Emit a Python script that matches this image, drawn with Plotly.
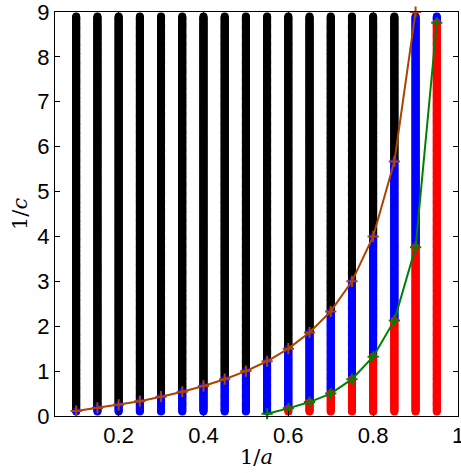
import numpy as np
import plotly.graph_objects as go

# columns of 1/a
col_x = [0.10, 0.15, 0.20, 0.25, 0.30, 0.35, 0.40, 0.45, 0.50, 0.55,
         0.60, 0.65, 0.70, 0.75, 0.80, 0.85, 0.90, 0.95]
# upper boundary (brown curve)
brown_x = [0.10, 0.15, 0.20, 0.25, 0.30, 0.35, 0.40, 0.45, 0.50, 0.55,
           0.60, 0.65, 0.70, 0.75, 0.80, 0.85, 0.90]
brown_y = [0.11, 0.18, 0.25, 0.33, 0.43, 0.54, 0.67, 0.82, 1.00, 1.22,
           1.50, 1.86, 2.33, 3.00, 4.00, 5.67, 9.00]
# lower boundary (green curve)
green_x = [0.55, 0.60, 0.65, 0.70, 0.75, 0.80, 0.85, 0.90, 0.95]
green_y = [0.05, 0.17, 0.31, 0.50, 0.82, 1.32, 2.13, 3.76, 8.76]

x_ticks = [0.2, 0.4, 0.6, 0.8, 1.0]
x_tick_text = ["0.2", "0.4", "0.6", "0.8", "1"]
y_ticks = [0, 1, 2, 3, 4, 5, 6, 7, 8, 9]

# sampled 1/c values in every column
y_samples = np.round(np.arange(0.10, 8.90001, 0.02), 3)

bmap = dict(zip(brown_x, brown_y))
gmap = dict(zip(green_x, green_y))

groups = {"black": ([], []), "blue": ([], []), "red": ([], [])}
for cx in col_x:
    up = bmap.get(cx, np.inf)
    lo = gmap.get(cx, -np.inf)
    for yv in y_samples:
        if yv > up:
            key = "black"
        elif yv > lo:
            key = "blue"
        else:
            key = "red"
        groups[key][0].append(cx)
        groups[key][1].append(yv)

colors = {"black": "#000000", "blue": "#0000ff", "red": "#ff0000"}

fig = go.Figure()
for key in ["black", "blue", "red"]:
    xs, ys = groups[key]
    fig.add_trace(go.Scatter(
        x=xs, y=ys, mode="markers",
        marker=dict(size=8, color=colors[key], opacity=1,
                    line=dict(width=0)),
        showlegend=False, hoverinfo="skip"))

fig.add_trace(go.Scatter(
    x=brown_x, y=brown_y, mode="lines+markers",
    line=dict(color="#aa4400", width=2),
    marker=dict(symbol="cross-thin", size=8,
                line=dict(width=2, color="#aa4400"), color="#aa4400"),
    showlegend=False, cliponaxis=False))
fig.add_trace(go.Scatter(
    x=green_x, y=green_y, mode="lines+markers",
    line=dict(color="#008000", width=2),
    marker=dict(symbol="cross-thin", size=8,
                line=dict(width=2, color="#008000"), color="#008000"),
    showlegend=False, cliponaxis=False))

axis_common = dict(
    showgrid=False, zeroline=False, showline=True, linecolor="black",
    linewidth=1, mirror="ticks", ticks="inside", ticklen=5,
    tickcolor="black", automargin=False, ticklabeloverflow="allow",
    tickfont=dict(family="Liberation Sans, Arial, sans-serif", size=22,
                  color="black"),
)

title_font = dict(family="DejaVu Serif, serif", size=21, color="black")

fig.update_layout(
    width=461, height=473,
    margin=dict(l=55, r=3, t=12, b=57),
    plot_bgcolor="white", paper_bgcolor="white",
    xaxis=dict(range=[0.05, 1.0], tickvals=x_ticks, ticktext=x_tick_text,
               **axis_common),
    yaxis=dict(range=[0, 9], tickvals=y_ticks, **axis_common),
    annotations=[
        dict(text="1/<i>a</i>", xref="paper", yref="paper", x=0.5, y=0,
             xanchor="center", yanchor="middle", yshift=-41,
             showarrow=False, font=title_font),
        dict(text="1/<i>c</i>", xref="paper", yref="paper", x=0, y=0.5,
             xanchor="center", yanchor="middle", xshift=-35, textangle=-90,
             showarrow=False, font=title_font),
    ],
)

fig.write_html(
    "out.html",
    config={"displayModeBar": False},
    post_script="document.body.style.margin='0';"
                "document.body.style.overflow='hidden';",
)
